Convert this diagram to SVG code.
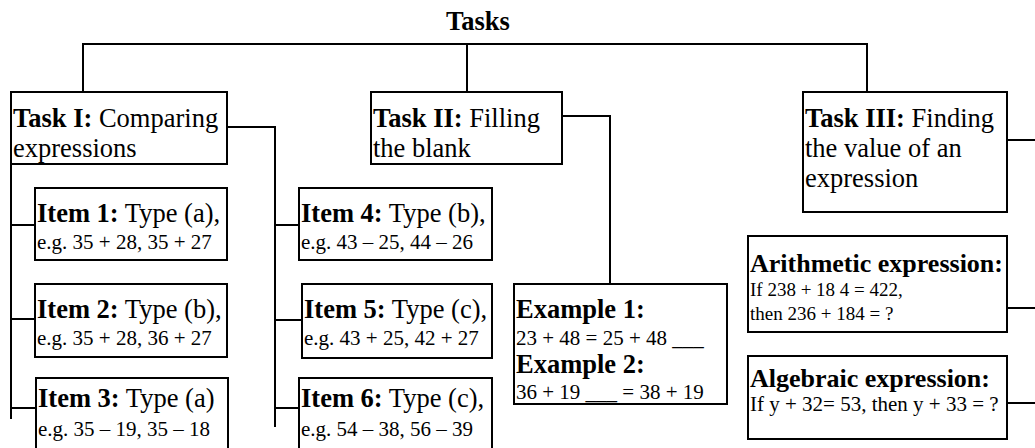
<svg xmlns="http://www.w3.org/2000/svg" width="1035" height="448" viewBox="0 0 1035 448">
<style>
text{font-family:"Liberation Serif","Times New Roman",serif;fill:#000}
.b{font-weight:bold}
.t{font-size:26.5px}
.s{font-size:21px}
.xs{font-size:19px}
.box{fill:#fff;stroke:#000;stroke-width:2}
.c{fill:none;stroke:#000;stroke-width:2}
</style>
<rect width="1035" height="448" fill="#fff"/>
<g id="connectors">
<path class="c" d="M83 92V44H867V92M467 44V92"/>
<path class="c" d="M227 127H275V427M275 225H299M275 320H302M275 408H299"/>
<path class="c" d="M11 164V419M11 225H35M11 319H35M11 408H36"/>
<path class="c" d="M562 116H610V284"/>
<path class="c" d="M1007 140H1035M1007 308H1035M1007 403H1035"/>
</g>
<g id="title"><text class="t b" x="478" y="30" text-anchor="middle">Tasks</text></g>
<g id="task1">
<rect class="box" x="11" y="92" width="216" height="72"/>
<text class="t" x="13" y="127"><tspan class="b">Task I:</tspan> Comparing</text>
<text class="t" x="13" y="157">expressions</text>
</g>
<g id="task2">
<rect class="box" x="371" y="92" width="191" height="72"/>
<text class="t" x="373" y="127"><tspan class="b">Task II:</tspan> Filling</text>
<text class="t" x="373" y="157">the blank</text>
</g>
<g id="task3">
<rect class="box" x="803" y="92" width="204" height="120"/>
<text class="t" x="805" y="127"><tspan class="b">Task III:</tspan> Finding</text>
<text class="t" x="805" y="157">the value of an</text>
<text class="t" x="805" y="187">expression</text>
</g>
<g id="item1">
<rect class="box" x="35" y="188" width="192" height="72"/>
<text class="t" x="37" y="222"><tspan class="b">Item 1:</tspan> Type (a),</text>
<text class="s" x="37" y="249">e.g. 35 + 28, 35 + 27</text>
</g>
<g id="item2">
<rect class="box" x="35" y="284" width="192" height="73"/>
<text class="t" x="37" y="318"><tspan class="b">Item 2:</tspan> Type (b),</text>
<text class="s" x="37" y="345">e.g. 35 + 28, 36 + 27</text>
</g>
<g id="item3">
<rect class="box" x="36" y="378" width="192" height="80"/>
<text class="t" x="38" y="407"><tspan class="b">Item 3:</tspan> Type (a)</text>
<text class="s" x="38" y="436">e.g. 35 – 19, 35 – 18</text>
</g>
<g id="item4">
<rect class="box" x="299" y="188" width="193" height="72"/>
<text class="t" x="301" y="222"><tspan class="b">Item 4:</tspan> Type (b),</text>
<text class="s" x="301" y="249">e.g. 43 – 25, 44 – 26</text>
</g>
<g id="item5">
<rect class="box" x="302" y="284" width="190" height="74"/>
<text class="t" x="304" y="318"><tspan class="b">Item 5:</tspan> Type (c),</text>
<text class="s" x="304" y="345">e.g. 43 + 25, 42 + 27</text>
</g>
<g id="item6">
<rect class="box" x="299" y="378" width="193" height="80"/>
<text class="t" x="301" y="407"><tspan class="b">Item 6:</tspan> Type (c),</text>
<text class="s" x="301" y="436">e.g. 54 – 38, 56 – 39</text>
</g>
<g id="examples">
<rect class="box" x="514" y="284" width="213" height="120"/>
<text class="t b" x="516" y="318">Example 1:</text>
<text class="s" x="516" y="345">23 + 48 = 25 + 48 ___</text>
<text class="t b" x="516" y="373">Example 2:</text>
<text class="s" x="516" y="399">36 + 19 ___ = 38 + 19</text>
</g>
<g id="arithmetic">
<rect class="box" x="748" y="236" width="259" height="96"/>
<text class="b" font-size="26" x="750" y="272">Arithmetic expression:</text>
<text class="xs" x="750" y="296">If 238 + 18 4 = 422,</text>
<text class="xs" x="750" y="320">then 236 + 184 = ?</text>
</g>
<g id="algebraic">
<rect class="box" x="748" y="356" width="259" height="83"/>
<text class="b" font-size="26" x="750" y="387">Algebraic expression:</text>
<text class="s" x="750" y="411">If y + 32= 53, then y + 33 = ?</text>
</g>
</svg>
